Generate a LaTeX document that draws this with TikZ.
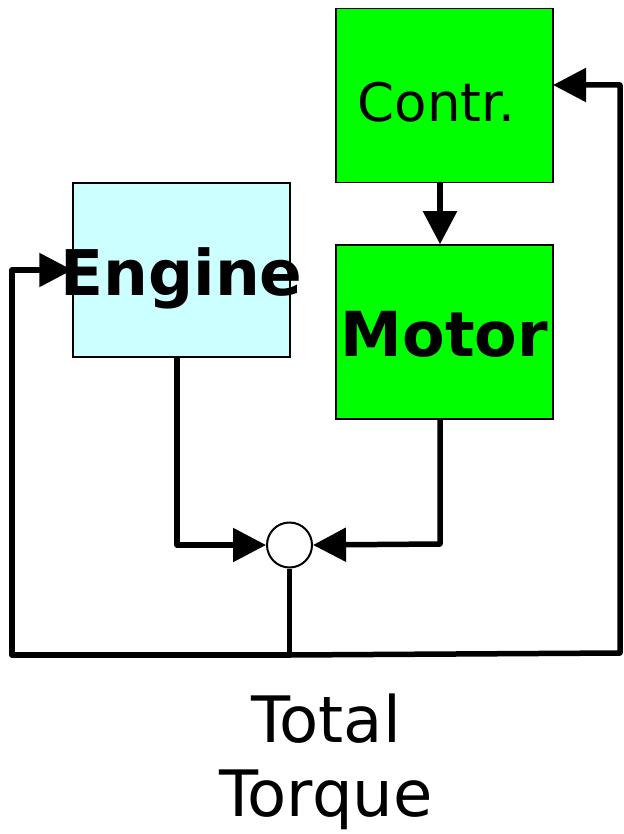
\documentclass[tikz,border=0pt]{standalone}
\usepackage{fontspec}
\setmainfont{DejaVu Sans}
\usetikzlibrary{arrows.meta}

\definecolor{motorgreen}{RGB}{0,255,0}
\definecolor{enginecyan}{RGB}{204,255,255}

\tikzset{
  blockbox/.style={draw=black, line width=1.5pt, minimum width=217pt, minimum height=174pt, inner sep=0pt},
  wire/.style={line width=5.5pt, line join=round},
  wirearrow/.style={wire, -{Triangle[length=33pt,width=33pt]}}
}

\begin{document}
\begin{tikzpicture}[x=1pt, y=-1pt]
  \useasboundingbox (0,0) rectangle (623,834);

  % 1. blocks
  \node[blockbox, fill=motorgreen] (contr) at (444.5,95.5)
    {\raisebox{-26pt}[0pt][0pt]{\makebox[0pt]{\fontsize{53}{60}\selectfont Contr.\hspace*{16pt}}}};
  \node[blockbox, fill=enginecyan] (engine) at (181.5,270)
    {\raisebox{-25pt}[0pt][0pt]{\makebox[0pt]{\fontsize{63}{70}\selectfont\bfseries Engine}}};
  \node[blockbox, fill=motorgreen] (motor) at (444.5,332)
    {\raisebox{-24pt}[0pt][0pt]{\makebox[0pt]{\fontsize{62}{70}\selectfont\bfseries Motor}}};

  % 2. summing junction
  \node[draw=black, line width=2pt, circle, minimum size=45pt, inner sep=0pt] (sum) at (289.5,545) {};

  % 3. corners of the wires
  \coordinate (eng-out) at (177,357);
  \coordinate (eng-bend) at (177,545);
  \coordinate (mot-out) at (440,419);
  \coordinate (mot-bend) at (440,544);
  \coordinate (foot) at (289.5,655);
  \coordinate (left-low) at (12,655);
  \coordinate (left-high) at (12,270);
  \coordinate (right-low) at (620,653);
  \coordinate (right-high) at (620,85);
  \coordinate (contr-in) at (553,85);

  % 4. wires
  \draw[wirearrow] (contr.south -| mot-out) -- (motor.north -| mot-out);
  \draw[wirearrow] (eng-out) -- (eng-bend) -- (sum.west);
  \draw[wirearrow] (mot-out) -- (mot-bend) -- (sum.east);
  \draw[wire] (sum.south) -- (foot);
  \draw[wirearrow] (foot) -- (left-low) -- (left-high) -- (engine.west |- left-high);
  \draw[wirearrow] (foot) -- (right-low) -- (right-high) -- (contr-in);

  % 5. output label
  \node[align=center, font=\fontsize{64}{74}\selectfont] (total) at (326,762) {Total\\Torque};
\end{tikzpicture}
\end{document}
